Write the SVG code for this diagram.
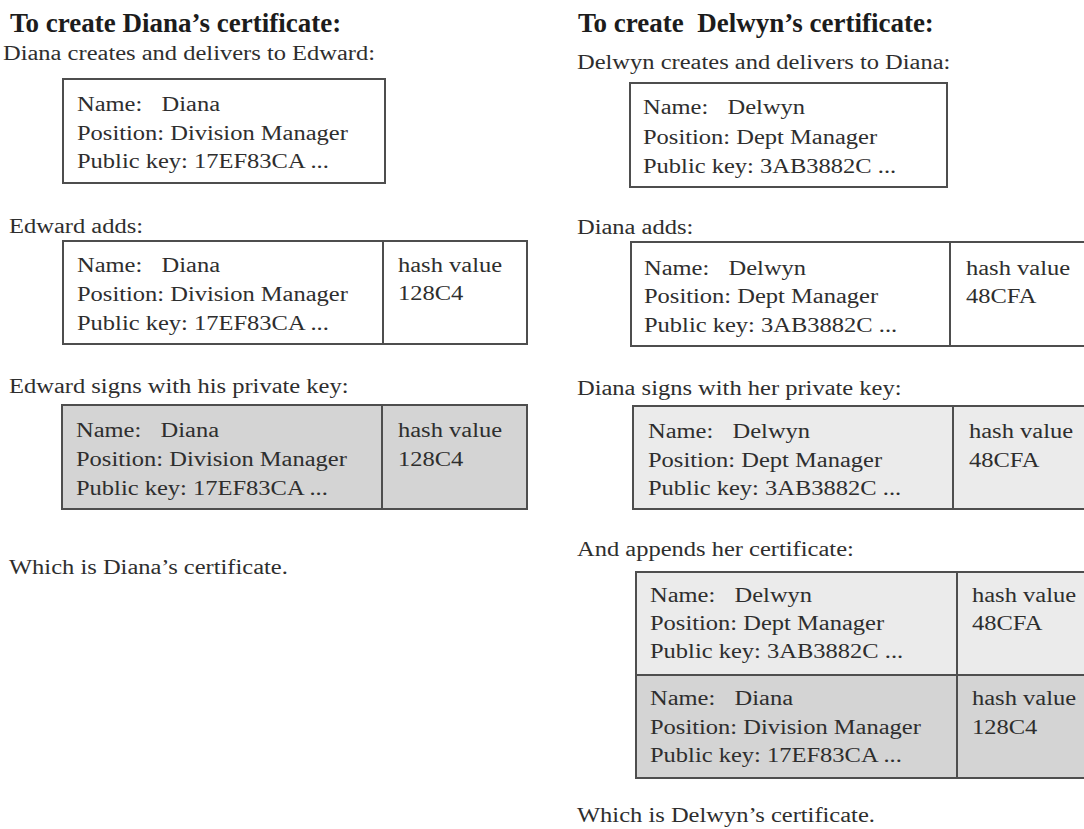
<svg xmlns="http://www.w3.org/2000/svg" width="1084" height="829" viewBox="0 0 1084 829">
<style>
.t{font-family:"Liberation Serif","Times New Roman",serif;font-size:20px;fill:#2e2e2e;white-space:pre}
.h{font-family:"Liberation Serif","Times New Roman",serif;font-size:27px;font-weight:bold;fill:#1c1c1c;white-space:pre}
.box{stroke:#4e4e4e;stroke-width:2}
.w{fill:#ffffff}
.g1{fill:#d4d4d4}
.g2{fill:#ebebeb}
.div{stroke:#4e4e4e;stroke-width:2}
</style>
<rect x="0" y="0" width="1084" height="829" fill="#ffffff"/>
<g id="connectors"/>

<!-- Left column -->
<g id="left-title">
<text class="h" x="10" y="32">To create Diana’s certificate:</text>
</g>
<g id="left-step1-label">
<text class="t" transform="matrix(1.225 0 0 1 3 60)">Diana creates and delivers to Edward:</text>
</g>
<g id="left-box1">
<rect class="box w" x="63" y="79" width="322" height="104"/>
<text class="t" transform="matrix(1.225 0 0 1 77 111)">Name:<tspan x="69">Diana</tspan></text>
<text class="t" transform="matrix(1.225 0 0 1 77 140)">Position: Division Manager</text>
<text class="t" transform="matrix(1.225 0 0 1 77 168)">Public key: 17EF83CA ...</text>
</g>
<g id="left-step2-label">
<text class="t" transform="matrix(1.225 0 0 1 9 233)">Edward adds:</text>
</g>
<g id="left-box2">
<rect class="box w" x="63" y="241" width="464" height="103"/>
<line class="div" x1="383" y1="241" x2="383" y2="344"/>
<text class="t" transform="matrix(1.225 0 0 1 77 272)">Name:<tspan x="69">Diana</tspan></text>
<text class="t" transform="matrix(1.225 0 0 1 77 301)">Position: Division Manager</text>
<text class="t" transform="matrix(1.225 0 0 1 77 330)">Public key: 17EF83CA ...</text>
<text class="t" transform="matrix(1.225 0 0 1 398 272)">hash value</text>
<text class="t" transform="matrix(1.225 0 0 1 398 300)">128C4</text>
</g>
<g id="left-step3-label">
<text class="t" transform="matrix(1.225 0 0 1 9 393)">Edward signs with his private key:</text>
</g>
<g id="left-box3">
<rect class="box g1" x="62" y="405" width="465" height="104"/>
<line class="div" x1="382" y1="405" x2="382" y2="509"/>
<text class="t" transform="matrix(1.225 0 0 1 76 437)">Name:<tspan x="69">Diana</tspan></text>
<text class="t" transform="matrix(1.225 0 0 1 76 466)">Position: Division Manager</text>
<text class="t" transform="matrix(1.225 0 0 1 76 495)">Public key: 17EF83CA ...</text>
<text class="t" transform="matrix(1.225 0 0 1 398 437)">hash value</text>
<text class="t" transform="matrix(1.225 0 0 1 398 466)">128C4</text>
</g>
<g id="left-result">
<text class="t" transform="matrix(1.225 0 0 1 9 574)">Which is Diana’s certificate.</text>
</g>

<!-- Right column -->
<g id="right-title">
<text class="h" x="578" y="32" xml:space="preserve">To create  Delwyn’s certificate:</text>
</g>
<g id="right-step1-label">
<text class="t" transform="matrix(1.225 0 0 1 577 69)">Delwyn creates and delivers to Diana:</text>
</g>
<g id="right-box1">
<rect class="box w" x="630" y="83" width="317" height="104"/>
<text class="t" transform="matrix(1.225 0 0 1 643 114)">Name:<tspan x="69">Delwyn</tspan></text>
<text class="t" transform="matrix(1.225 0 0 1 643 144)">Position: Dept Manager</text>
<text class="t" transform="matrix(1.225 0 0 1 643 173)">Public key: 3AB3882C ...</text>
</g>
<g id="right-step2-label">
<text class="t" transform="matrix(1.225 0 0 1 577 234)">Diana adds:</text>
</g>
<g id="right-box2">
<rect class="box w" x="631" y="242" width="465" height="104"/>
<line class="div" x1="950" y1="242" x2="950" y2="346"/>
<text class="t" transform="matrix(1.225 0 0 1 644 275)">Name:<tspan x="69">Delwyn</tspan></text>
<text class="t" transform="matrix(1.225 0 0 1 644 303)">Position: Dept Manager</text>
<text class="t" transform="matrix(1.225 0 0 1 644 332)">Public key: 3AB3882C ...</text>
<text class="t" transform="matrix(1.225 0 0 1 966 275)">hash value</text>
<text class="t" transform="matrix(1.225 0 0 1 966 303)">48CFA</text>
</g>
<g id="right-step3-label">
<text class="t" transform="matrix(1.225 0 0 1 577 395)">Diana signs with her private key:</text>
</g>
<g id="right-box3">
<rect class="box g2" x="633" y="406" width="465" height="103"/>
<line class="div" x1="953" y1="406" x2="953" y2="509"/>
<text class="t" transform="matrix(1.225 0 0 1 648 438)">Name:<tspan x="69">Delwyn</tspan></text>
<text class="t" transform="matrix(1.225 0 0 1 648 467)">Position: Dept Manager</text>
<text class="t" transform="matrix(1.225 0 0 1 648 495)">Public key: 3AB3882C ...</text>
<text class="t" transform="matrix(1.225 0 0 1 969 438)">hash value</text>
<text class="t" transform="matrix(1.225 0 0 1 969 467)">48CFA</text>
</g>
<g id="right-step4-label">
<text class="t" transform="matrix(1.225 0 0 1 577 556)">And appends her certificate:</text>
</g>
<g id="right-box4">
<rect class="box g2" x="636" y="572" width="465" height="103"/>
<rect class="box g1" x="636" y="675" width="465" height="103"/>
<line class="div" x1="957" y1="572" x2="957" y2="778"/>
<text class="t" transform="matrix(1.225 0 0 1 650 602)">Name:<tspan x="69">Delwyn</tspan></text>
<text class="t" transform="matrix(1.225 0 0 1 650 630)">Position: Dept Manager</text>
<text class="t" transform="matrix(1.225 0 0 1 650 658)">Public key: 3AB3882C ...</text>
<text class="t" transform="matrix(1.225 0 0 1 972 602)">hash value</text>
<text class="t" transform="matrix(1.225 0 0 1 972 630)">48CFA</text>
<text class="t" transform="matrix(1.225 0 0 1 650 705)">Name:<tspan x="69">Diana</tspan></text>
<text class="t" transform="matrix(1.225 0 0 1 650 734)">Position: Division Manager</text>
<text class="t" transform="matrix(1.225 0 0 1 650 762)">Public key: 17EF83CA ...</text>
<text class="t" transform="matrix(1.225 0 0 1 972 705)">hash value</text>
<text class="t" transform="matrix(1.225 0 0 1 972 734)">128C4</text>
</g>
<g id="right-result">
<text class="t" transform="matrix(1.225 0 0 1 577 822)">Which is Delwyn’s certificate.</text>
</g>
</svg>
